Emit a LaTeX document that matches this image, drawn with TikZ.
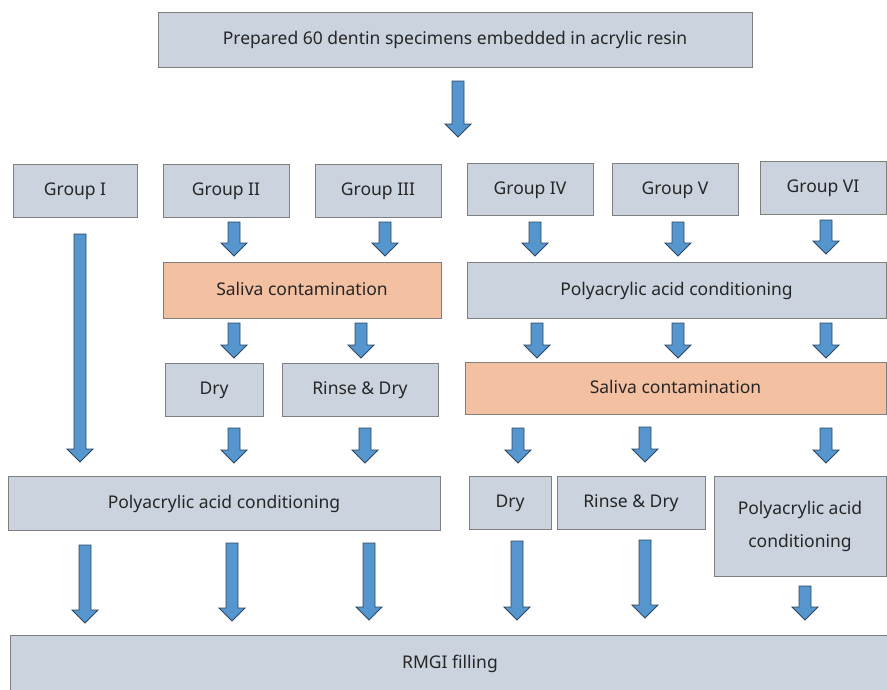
\documentclass[tikz,border=0pt]{standalone}
\usepackage{fontspec}
\setmainfont{Noto Sans}
\definecolor{boxfill}{HTML}{CBD3DF}
\definecolor{boxline}{HTML}{7F7F7F}
\definecolor{salmon}{HTML}{F4C0A2}
\definecolor{arrfill}{HTML}{5596CE}
\definecolor{arrline}{HTML}{2E4560}
\tikzset{
  box/.style={draw=boxline, fill=boxfill, line width=0.9pt, inner sep=0pt, outer sep=0pt, font=\fontsize{17.5}{26}\selectfont, text=black!85, align=center},
  saliva/.style={box, fill=salmon},
  barrow/.style={draw=arrline, fill=arrfill, line width=0.9pt, line join=miter}
}
\newcommand\bx[6]{\node[box, minimum width={#4-#2}, minimum height={#5-#3}] (#1) at ({(#2+#4)/2},{(#3+#5)/2}) {\strut#6};}
\newcommand\sx[6]{\node[saliva, minimum width={#4-#2}, minimum height={#5-#3}] (#1) at ({(#2+#4)/2},{(#3+#5)/2}) {\strut#6};}
\newcommand\blockarrow[3]{\draw[barrow] ({#1-6},#2) -- ({#1+6},#2) -- ({#1+6},{#3-13}) -- ({#1+13},{#3-13}) -- (#1,#3) -- ({#1-13},{#3-13}) -- ({#1-6},{#3-13}) -- cycle;}
\begin{document}
\begin{tikzpicture}[x=1pt,y=-1pt]
\useasboundingbox (0,0) rectangle (887,689);
\bx{top}{158}{12}{752}{67}{Prepared 60 dentin specimens embedded in acrylic resin}
\blockarrow{458}{81}{137}
\bx{g1}{13}{164}{137}{217}{Group I}
\bx{g2}{163}{164}{289}{217}{Group II}
\bx{g3}{315}{164}{441}{217}{Group III}
\bx{g4}{467}{163}{593}{215}{Group IV}
\bx{g5}{612}{163}{738}{215}{Group V}
\bx{g6}{760}{161}{886}{214}{Group VI}
\sx{sal1}{163}{262}{441}{318}{Saliva contamination}
\bx{paa1}{467}{262}{886}{318}{Polyacrylic acid conditioning}
\bx{dry1}{165}{363}{263}{416}{Dry}
\bx{rd1}{282}{363}{438}{416}{Rinse \& Dry}
\sx{sal2}{465}{362}{886}{414}{Saliva contamination}
\bx{paa2}{8}{476}{440}{530}{Polyacrylic acid conditioning}
\bx{dry2}{469}{476}{551}{529}{Dry}
\bx{rd2}{557}{476}{705}{529}{Rinse \& Dry}
\bx{paa3}{714}{476}{886}{576}{Polyacrylic acid\\[7pt]\strut conditioning}
\bx{rmgi}{10}{635}{890}{692}{RMGI filling}
% arrows
\blockarrow{80}{234}{462}
\blockarrow{234}{222}{256}
\blockarrow{385}{222}{256}
\blockarrow{535}{222}{256}
\blockarrow{678}{222}{256}
\blockarrow{826}{220}{254}
\blockarrow{234}{323}{358}
\blockarrow{361}{323}{358}
\blockarrow{537}{323}{358}
\blockarrow{678}{323}{358}
\blockarrow{826}{323}{358}
\blockarrow{234}{428}{463}
\blockarrow{365}{428}{463}
\blockarrow{518}{428}{463}
\blockarrow{645}{427}{462}
\blockarrow{826}{428}{463}
\blockarrow{85}{545}{623}
\blockarrow{232}{543}{621}
\blockarrow{369}{543}{620}
\blockarrow{517}{541}{620}
\blockarrow{645}{540}{618}
\blockarrow{805}{586}{620}
\end{tikzpicture}
\end{document}
